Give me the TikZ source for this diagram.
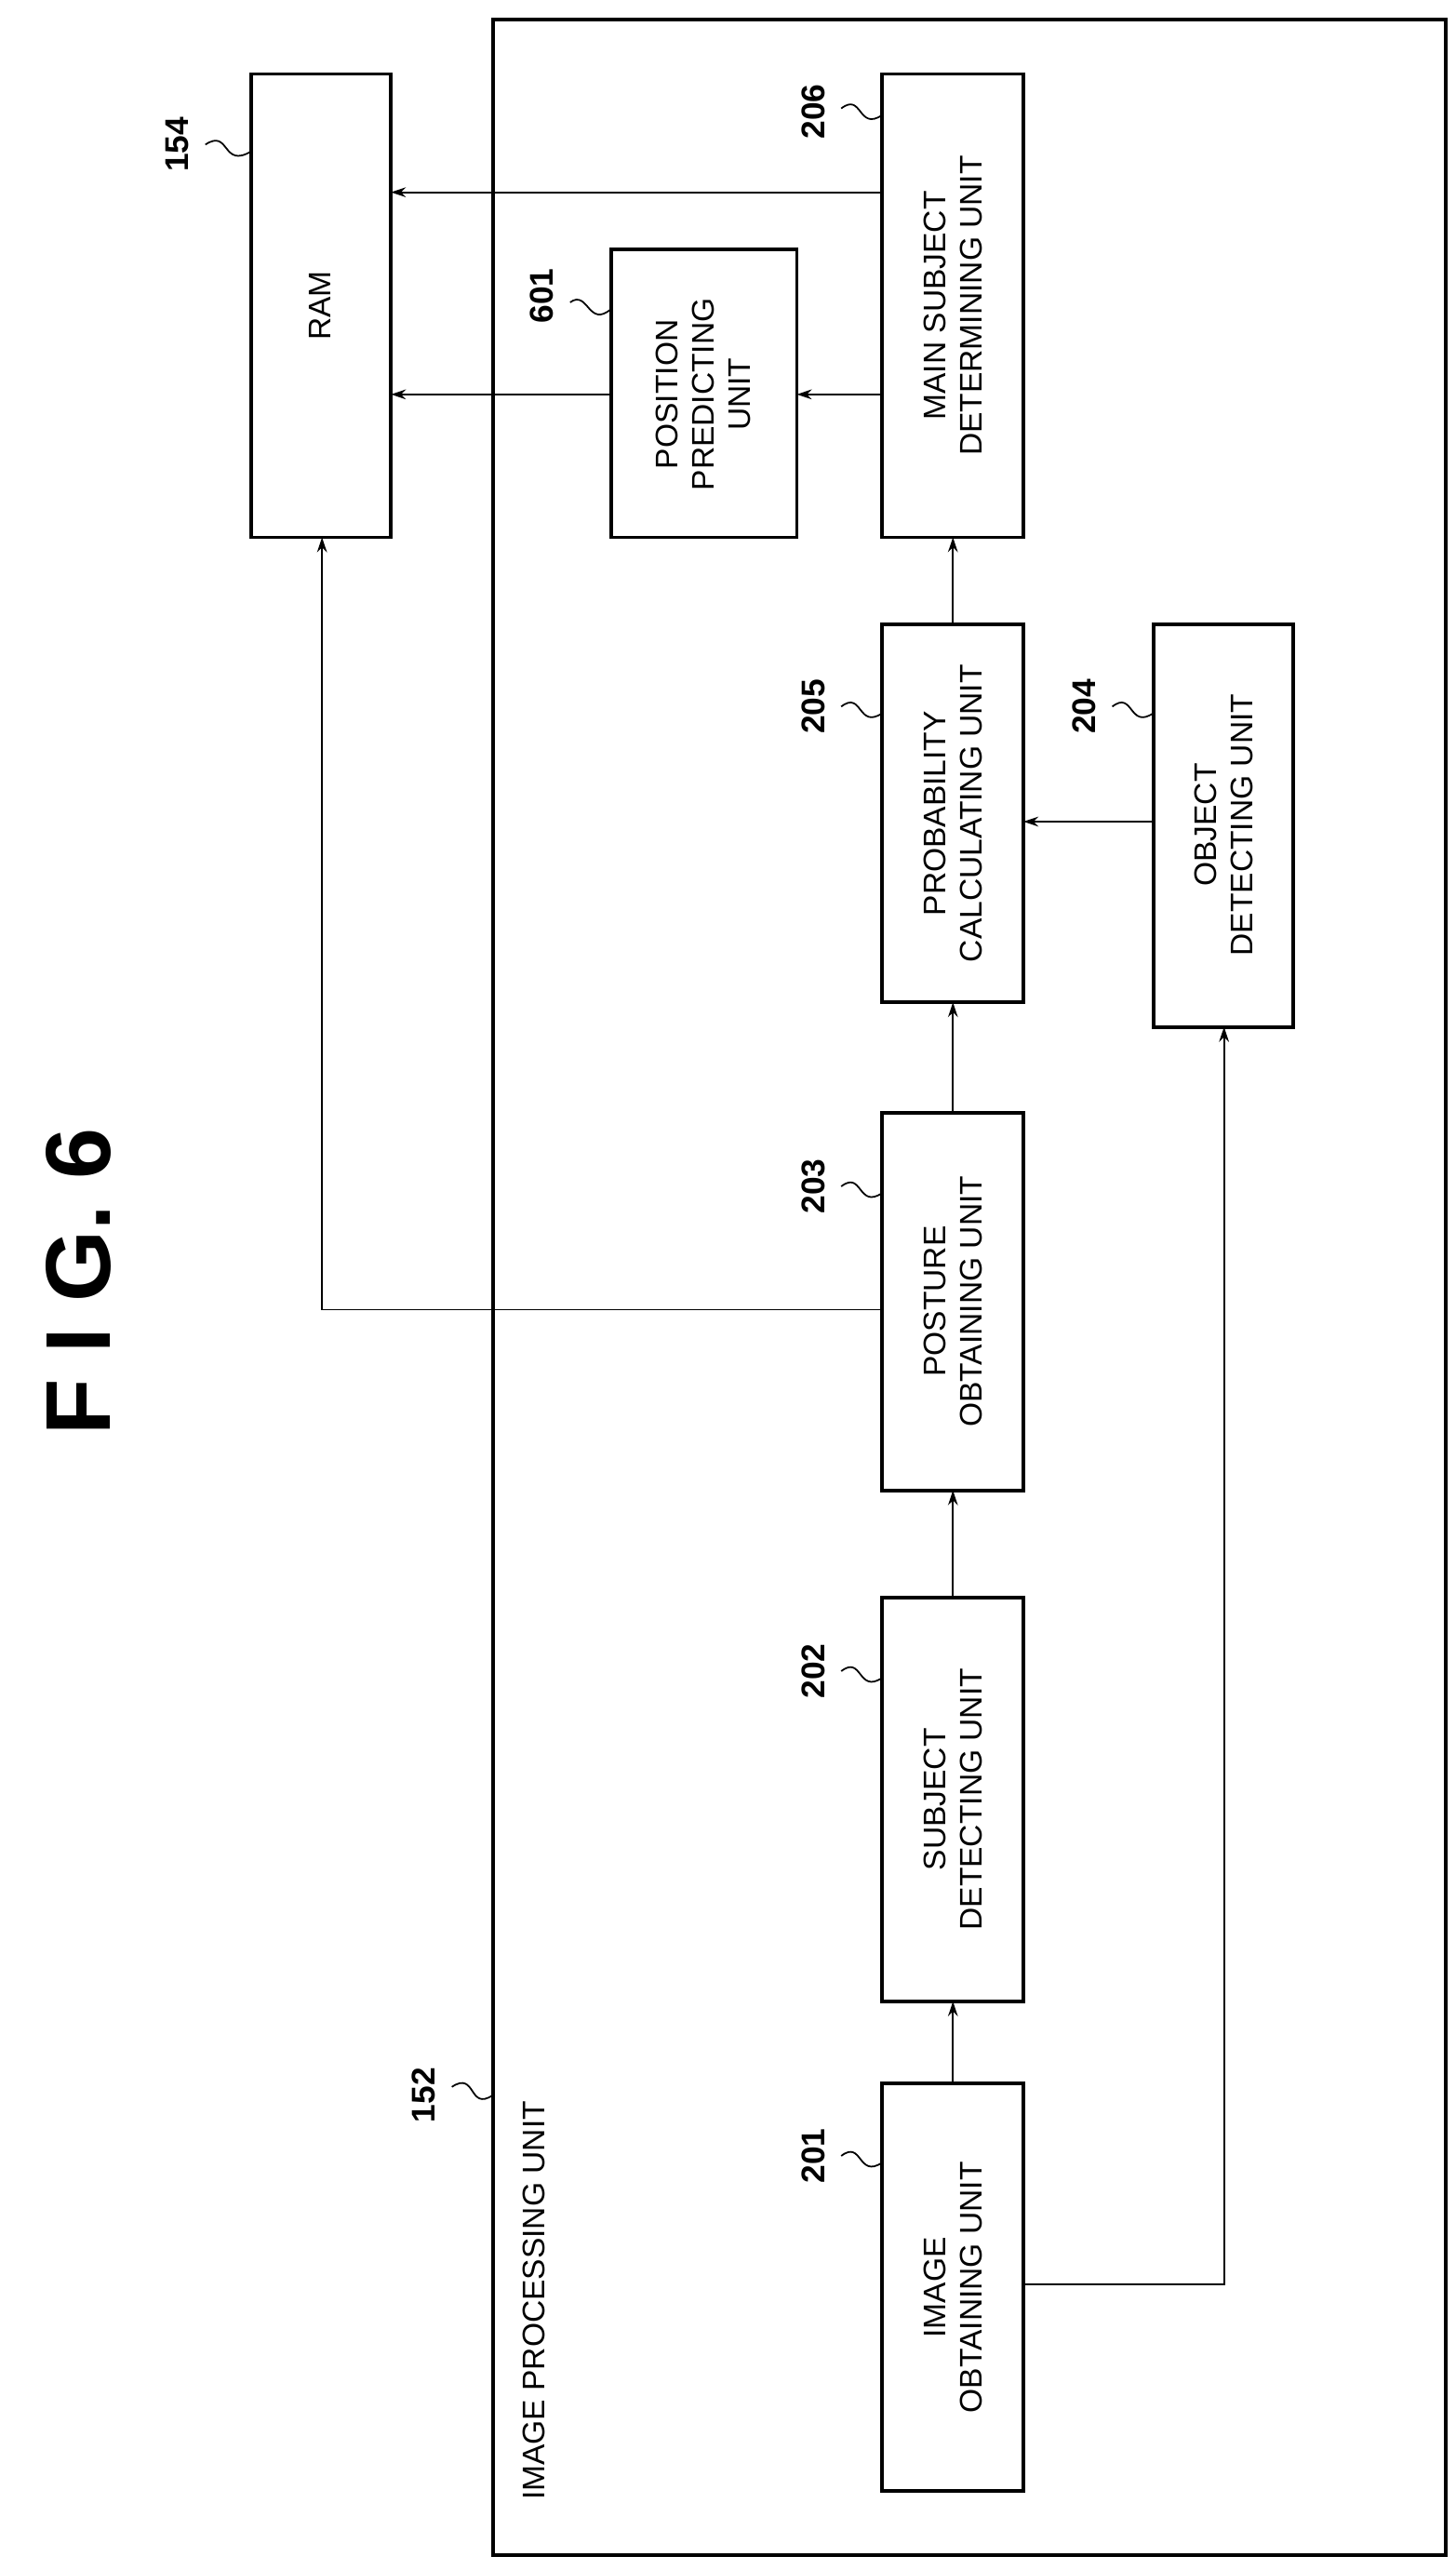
\documentclass[tikz,border=0pt]{standalone}
\usepackage{fontspec}
\setmainfont{Liberation Sans}
\usetikzlibrary{arrows.meta,decorations.pathmorphing}
\begin{document}
\begin{tikzpicture}[x=1pt,y=-1pt,
 box/.style={draw,line width=2.2pt,inner sep=0pt},
 txt/.style={rotate=90,align=center,font=\fontsize{19}{22}\selectfont},
 lab/.style={rotate=90,font=\fontsize{20}{22}\selectfont\bfseries},
 arr/.style={line width=1.1pt,-{Stealth[length=9pt,width=6pt]}},
 sq/.style={line width=1pt}]
\useasboundingbox (0,0) rectangle (886,1564);
\draw[line width=2pt] (300,12) rectangle (880,1555);
\node[txt,anchor=west] (ipu) at (325,1525) {IMAGE PROCESSING UNIT};
\node[lab] (l152) at (258,1275) {152};
\draw[sq] (275,1270) .. controls (290,1260) and (285,1285) .. (300,1275);
\node[lab] (title) at (48,780) {\fontsize{56}{60}\selectfont F I G. 6};
% boxes
\draw[box] (153,45) rectangle (238,327); \node[txt] (ram) at (195,186) {RAM};
\coordinate (ramA) at (238,117); \coordinate (ramB) at (238,240); \coordinate (ramC) at (196,327);
\node[lab] (l154) at (108,88) {154};
\draw[sq] (125,88) .. controls (140,78) and (135,103) .. (153,92);
\draw[box] (537,45) rectangle (623,327); \node[txt] (t206) at (580,186) {MAIN SUBJECT\\DETERMINING UNIT};
\node[lab] (l206) at (495,68) {206};
\draw[sq] (512,66) .. controls (525,56) and (522,80) .. (537,70);
\draw[box] (372,152) rectangle (485,327); \node[txt] (t601) at (428,240) {POSITION\\PREDICTING\\UNIT};
\node[lab] (l601) at (330,180) {601};
\draw[sq] (347,184) .. controls (358,176) and (358,200) .. (372,188);
\draw[box] (537,380) rectangle (623,610); \node[txt] (t205) at (580,495) {PROBABILITY\\CALCULATING UNIT};
\node[lab] (l205) at (495,430) {205};
\draw[sq] (512,430) .. controls (525,420) and (522,444) .. (537,434);
\draw[box] (702,380) rectangle (787,625); \node[txt] (t204) at (745,502) {OBJECT\\DETECTING UNIT};
\node[lab] (l204) at (660,430) {204};
\draw[sq] (677,430) .. controls (690,420) and (687,444) .. (702,434);
\draw[box] (537,677) rectangle (623,907); \node[txt] (t203) at (580,792) {POSTURE\\OBTAINING UNIT};
\node[lab] (l203) at (495,722) {203};
\draw[sq] (512,722) .. controls (525,712) and (522,736) .. (537,726);
\draw[box] (537,972) rectangle (623,1218); \node[txt] (t202) at (580,1095) {SUBJECT\\DETECTING UNIT};
\node[lab] (l202) at (495,1017) {202};
\draw[sq] (512,1017) .. controls (525,1007) and (522,1031) .. (537,1021);
\draw[box] (537,1268) rectangle (623,1516); \node[txt] (t201) at (580,1392) {IMAGE\\OBTAINING UNIT};
\node[lab] (l201) at (495,1312) {201};
\draw[sq] (512,1312) .. controls (525,1302) and (522,1326) .. (537,1316);
% arrows
\draw[arr] (537,117) -- (ramA);
\draw[arr] (372,240) -- (ramB);
\draw[arr] (537,240) -- (485,240);
\draw[arr] (580,380) -- (580,327);
\draw[arr] (580,677) -- (580,610);
\draw[arr] (580,972) -- (580,907);
\draw[arr] (580,1268) -- (580,1218);
\draw[arr] (702,500) -- (623,500);
\draw[arr] (623,1390) -- (745,1390) -- (745,625);
\draw[arr] (537,797) -- (196,797) -- (ramC);
\end{tikzpicture}
\end{document}
